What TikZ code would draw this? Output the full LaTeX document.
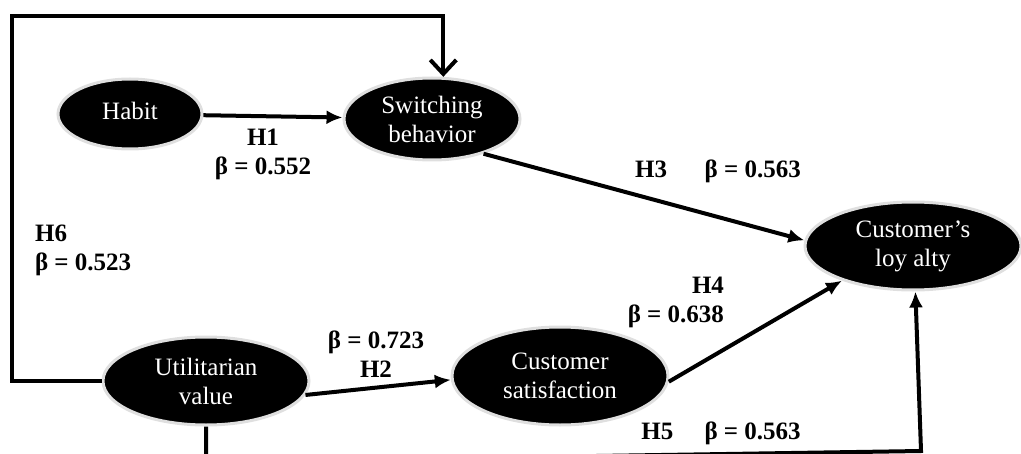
\documentclass[tikz,border=0pt]{standalone}
\usepackage{fontspec}
\setmainfont{Liberation Serif}
\usetikzlibrary{arrows,arrows.meta,positioning,shapes}

\begin{document}
\begin{tikzpicture}[x=0.5pt,y=-0.5pt,
    construct/.style={draw=gray!25,line width=1.5pt,ellipse,fill=black,text=white,inner sep=0pt,
      align=center,font=\fontsize{12.5}{14.5}\selectfont},
    path/.style={line width=2pt},
    tip/.style={-{Latex[length=8pt,width=7pt]}},
    hyp/.style={align=center,font=\fontsize{12.5}{14.5}\selectfont\bfseries}]
    \useasboundingbox (0,0) rectangle (1021,454);
    \clip (0,0) rectangle (1021,454);

    \node[construct,minimum width=72pt,minimum height=35pt] (habit) at (130,114) {\raisebox{3pt}{Habit}};
    \node[construct,minimum width=88pt,minimum height=41pt] (switch) at (432,119) {Switching \\ behavior};
    \node[construct,minimum width=108pt,minimum height=44pt] (loyal) at (913,246) {Customer's \\ loy alty};
    \node[construct,minimum width=103pt,minimum height=44pt] (util) at (206,381) {Utilitarian \\ value};
    \node[construct,minimum width=108pt,minimum height=49pt] (satis) at (560,376) {Customer \\ satisfaction};

    \coordinate (bl) at (206,462);
    \coordinate (br) at (921,451);

    \draw[path,tip] (habit) -- (switch);
    \draw[path,tip] (switch.-34) -- (loyal.177);
    \draw[path,tip] (satis.-3) -- (loyal.206);
    \draw[path,tip] (util.-8) -- (satis.182);
    \draw[path,-{Straight Barb[length=7pt,width=13pt,line width=2pt]}] (util.west) -| (12,16) -| (switch.75);
    \draw[path,tip] (util.south) -- (bl) -- (br) -- (loyal.-87);

    \node[hyp] (h1) at (263,154) {H1 \\ β = 0.552};
    \node[hyp] (h3) at (718,171) {H3 \quad\ β = 0.563};
    \node[hyp,align=right,anchor=east] (h4) at (731,302) {H4 \\ β = 0.638};
    \node[hyp,align=left,anchor=west] (h6) at (28,250) {H6 \\ β = 0.523};
    \node[hyp] (h2) at (376,354) {β = 0.723 \\ H2};
    \node[hyp] (h5) at (721,433) {H5 \quad β = 0.563};
\end{tikzpicture}
\end{document}
